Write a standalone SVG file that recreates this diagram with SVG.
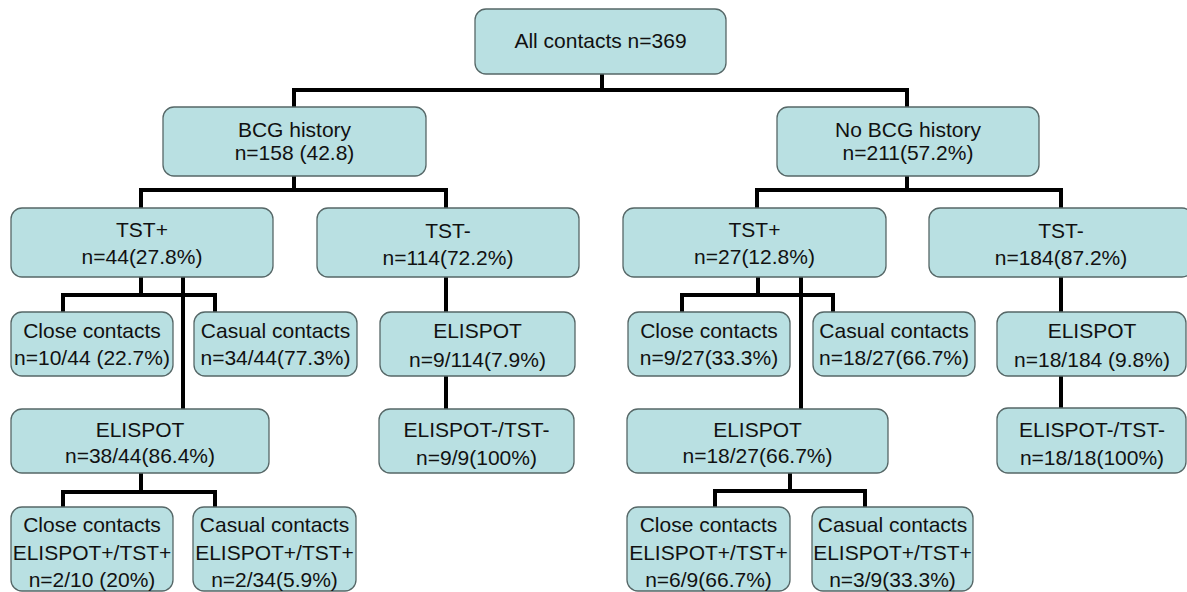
<svg xmlns="http://www.w3.org/2000/svg" width="1187" height="592" viewBox="0 0 1187 592">
<style>
.box{fill:#b9e0e2;stroke:#566767;stroke-width:1.3}
.t{font-family:"Liberation Sans",Arial,sans-serif;font-size:21px;fill:#111;text-anchor:middle}
.c{fill:none;stroke:#000;stroke-width:4;stroke-linejoin:miter;stroke-linecap:square}
</style>
<rect width="1187" height="592" fill="#fff"/>
<g id="connectors" class="c">
<path d="M602,74 V90"/>
<path d="M294,107 V90 H907 V107"/>
<path d="M294,176 V190"/>
<path d="M141,208 V190 H446 V208"/>
<path d="M907,176 V190"/>
<path d="M757,208 V190 H1061 V208"/>
<path d="M141,277 V295"/>
<path d="M63,312 V295 H215 V312"/>
<path d="M183,277 V409"/>
<path d="M141,473 V492"/>
<path d="M63,507 V492 H215 V507"/>
<path d="M446,277 V312"/>
<path d="M446,376 V409"/>
<path d="M758,277 V295"/>
<path d="M682,312 V295 H833 V312"/>
<path d="M801,277 V409"/>
<path d="M790,473 V491"/>
<path d="M715,507 V491 H865 V507"/>
<path d="M1061,277 V312"/>
<path d="M1061,376 V408"/>
</g>
<g id="root"><rect class="box" x="475" y="9" width="251" height="65" rx="11"/><text class="t" x="600.5" y="48">All contacts n=369</text></g>
<g id="bcg"><rect class="box" x="163" y="107" width="263" height="69" rx="11"/><text class="t" x="294.5" y="137">BCG history</text><text class="t" x="294.5" y="160">n=158 (42.8)</text></g>
<g id="nobcg"><rect class="box" x="777" y="107" width="262" height="69" rx="11"/><text class="t" x="908" y="137">No BCG history</text><text class="t" x="908" y="160">n=211(57.2%)</text></g>
<g id="tstpos-l"><rect class="box" x="11" y="208" width="262" height="69" rx="11"/><text class="t" x="142" y="237">TST+</text><text class="t" x="142" y="264">n=44(27.8%)</text></g>
<g id="tstneg-l"><rect class="box" x="317" y="208" width="262" height="69" rx="11"/><text class="t" x="448" y="238">TST-</text><text class="t" x="448" y="265">n=114(72.2%)</text></g>
<g id="tstpos-r"><rect class="box" x="623" y="208" width="263" height="69" rx="11"/><text class="t" x="754.5" y="237">TST+</text><text class="t" x="754.5" y="264">n=27(12.8%)</text></g>
<g id="tstneg-r"><rect class="box" x="929" y="208" width="264" height="69" rx="11"/><text class="t" x="1061" y="238">TST-</text><text class="t" x="1061" y="265">n=184(87.2%)</text></g>
<g id="close-l"><rect class="box" x="11" y="312" width="162" height="64" rx="11"/><text class="t" x="92" y="338">Close contacts</text><text class="t" x="92" y="365">n=10/44 (22.7%)</text></g>
<g id="casual-l"><rect class="box" x="194" y="312" width="163" height="64" rx="11"/><text class="t" x="275.5" y="338">Casual contacts</text><text class="t" x="275.5" y="365">n=34/44(77.3%)</text></g>
<g id="elispot-ml"><rect class="box" x="380" y="312" width="195" height="64" rx="11"/><text class="t" x="477.5" y="338">ELISPOT</text><text class="t" x="477.5" y="367">n=9/114(7.9%)</text></g>
<g id="close-r"><rect class="box" x="628" y="312" width="162" height="64" rx="11"/><text class="t" x="709" y="338">Close contacts</text><text class="t" x="709" y="365">n=9/27(33.3%)</text></g>
<g id="casual-r"><rect class="box" x="813" y="312" width="162" height="64" rx="11"/><text class="t" x="894" y="338">Casual contacts</text><text class="t" x="894" y="365">n=18/27(66.7%)</text></g>
<g id="elispot-rr"><rect class="box" x="997" y="312" width="189" height="64" rx="11"/><text class="t" x="1092" y="338">ELISPOT</text><text class="t" x="1092" y="367">n=18/184 (9.8%)</text></g>
<g id="elispot-l"><rect class="box" x="11" y="409" width="258" height="64" rx="11"/><text class="t" x="140" y="437">ELISPOT</text><text class="t" x="140" y="463">n=38/44(86.4%)</text></g>
<g id="neg-ml"><rect class="box" x="379" y="409" width="195" height="64" rx="11"/><text class="t" x="476.5" y="437">ELISPOT-/TST-</text><text class="t" x="476.5" y="465">n=9/9(100%)</text></g>
<g id="elispot-r"><rect class="box" x="627" y="409" width="261" height="64" rx="11"/><text class="t" x="757.5" y="437">ELISPOT</text><text class="t" x="757.5" y="463">n=18/27(66.7%)</text></g>
<g id="neg-rr"><rect class="box" x="997" y="408" width="189" height="65" rx="11"/><text class="t" x="1092" y="437">ELISPOT-/TST-</text><text class="t" x="1092" y="465">n=18/18(100%)</text></g>
<g id="bot-close-l"><rect class="box" x="11" y="507" width="162" height="84" rx="11"/><text class="t" x="92" y="532">Close contacts</text><text class="t" x="92" y="560">ELISPOT+/TST+</text><text class="t" x="92" y="587">n=2/10 (20%)</text></g>
<g id="bot-casual-l"><rect class="box" x="193" y="507" width="163" height="84" rx="11"/><text class="t" x="274.5" y="532">Casual contacts</text><text class="t" x="274.5" y="560">ELISPOT+/TST+</text><text class="t" x="274.5" y="587">n=2/34(5.9%)</text></g>
<g id="bot-close-r"><rect class="box" x="627" y="507" width="163" height="84" rx="11"/><text class="t" x="708.5" y="532">Close contacts</text><text class="t" x="708.5" y="560">ELISPOT+/TST+</text><text class="t" x="708.5" y="587">n=6/9(66.7%)</text></g>
<g id="bot-casual-r"><rect class="box" x="812" y="507" width="161" height="84" rx="11"/><text class="t" x="892.5" y="532">Casual contacts</text><text class="t" x="892.5" y="560">ELISPOT+/TST+</text><text class="t" x="892.5" y="587">n=3/9(33.3%)</text></g>
</svg>
